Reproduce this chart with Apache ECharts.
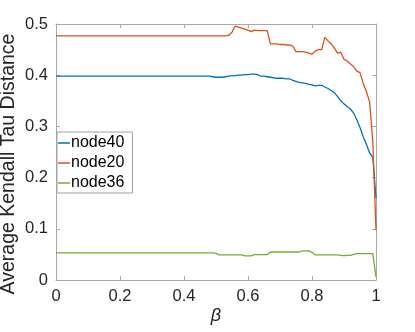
<!DOCTYPE html>
<html>
<head>
<meta charset="utf-8">
<script src="https://cdn.jsdelivr.net/npm/echarts@6/dist/echarts.min.js"></script>
<style>
    html, body { margin: 0; padding: 0; background: #fff; }
    #chart { width: 415px; height: 332px; }
</style>
</head>
<body>
<div id="chart"></div>
<script>
const betaValues = [0, 0.1, 0.2, 0.3, 0.4, 0.45, 0.48,
    0.49, 0.5, 0.51, 0.52, 0.53, 0.54, 0.55, 0.56, 0.57, 0.58, 0.59,
    0.6, 0.61, 0.62, 0.63, 0.64, 0.65, 0.66, 0.67, 0.68, 0.69,
    0.7, 0.71, 0.72, 0.73, 0.74, 0.75, 0.76, 0.77, 0.78, 0.79,
    0.8, 0.81, 0.82, 0.83, 0.84, 0.85, 0.86, 0.87, 0.88, 0.89,
    0.9, 0.91, 0.92, 0.93, 0.94, 0.95, 0.96, 0.97, 0.98, 0.99, 1]

const node40 = [0.398, 0.398, 0.398, 0.398, 0.398, 0.398, 0.398,
    0.397, 0.396, 0.396, 0.396, 0.397, 0.398, 0.399, 0.399, 0.400, 0.400, 0.401,
    0.401, 0.402, 0.402, 0.401, 0.398, 0.398, 0.397, 0.396, 0.395, 0.394,
    0.394, 0.394, 0.393, 0.393, 0.390, 0.388, 0.386, 0.385, 0.384, 0.382,
    0.381, 0.379, 0.380, 0.380, 0.377, 0.374, 0.370, 0.366, 0.358, 0.350,
    0.344, 0.339, 0.334, 0.326, 0.313, 0.298, 0.280, 0.265, 0.248, 0.240, 0.160]

const node20 = [0.477, 0.477, 0.477, 0.477, 0.477, 0.477, 0.477,
    0.477, 0.477, 0.477, 0.477, 0.477, 0.478, 0.484, 0.496, 0.494, 0.492, 0.490,
    0.488, 0.485, 0.488, 0.487, 0.487, 0.487, 0.487, 0.461, 0.461, 0.461,
    0.460, 0.460, 0.459, 0.459, 0.457, 0.446, 0.446, 0.446, 0.445, 0.443,
    0.441, 0.447, 0.450, 0.450, 0.474, 0.467, 0.461, 0.453, 0.443, 0.445,
    0.431, 0.428, 0.422, 0.417, 0.408, 0.405, 0.384, 0.368, 0.348, 0.270, 0.098]

const node36 = [0.053, 0.053, 0.053, 0.053, 0.053, 0.053, 0.053,
    0.053, 0.052, 0.049, 0.049, 0.049, 0.049, 0.049, 0.049, 0.049, 0.049, 0.047,
    0.047, 0.047, 0.0495, 0.0495, 0.0495, 0.0495, 0.0495, 0.0547, 0.0547, 0.0547,
    0.0547, 0.0547, 0.0547, 0.0547, 0.0547, 0.0547, 0.0547, 0.057, 0.057, 0.057,
    0.054, 0.049, 0.049, 0.049, 0.049, 0.049, 0.049, 0.049, 0.049, 0.048,
    0.0475, 0.048, 0.048, 0.050, 0.0514, 0.0514, 0.0514, 0.0514, 0.0514, 0.0514, 0.006]

const seriesNames = ['node40', 'node20', 'node36']
const seriesColors = ['#0072BD', '#D95319', '#77AC30']

const font = 'Liberation Sans, Arial, Helvetica, sans-serif'
const axisGray = '#a8a8a8'
const textDark = '#262626'

const pairs = (ys) => betaValues.map((x, i) => [x, ys[i]])

const chart = echarts.init(document.getElementById('chart'), null, { renderer: 'canvas' })

const boxAxis = (extra) => Object.assign({
    type: 'value',
    axisLine: { show: true, onZero: false, lineStyle: { color: axisGray, width: 1 } },
    axisTick: { show: true, inside: true, length: 4, lineStyle: { color: axisGray } },
    splitLine: { show: false },
}, extra)

chart.setOption({
    animation: false,
    backgroundColor: '#fff',
    textStyle: { fontFamily: font },
    grid: { left: 56, right: 39, top: 24, bottom: 52, containLabel: false, outerBoundsMode: 'none' },
    legend: {
        data: seriesNames,
        orient: 'vertical',
        left: 57,
        top: 132,
        padding: [3, 8, 2, 1],
        itemGap: 4,
        itemWidth: 12,
        itemHeight: 1.5,
        icon: 'rect',
        backgroundColor: '#ffffff',
        borderColor: '#a0a0a0',
        borderWidth: 1,
        borderRadius: 0,
        textStyle: { fontSize: 16, color: '#000', fontFamily: font, lineHeight: 16, padding: [0, 0, 0, -4] },
    },
    xAxis: [
        boxAxis({
            min: 0, max: 1, interval: 0.2,
            name: 'β',
            nameLocation: 'middle',
            nameGap: 27,
            nameMoveOverlap: false,
            nameTextStyle: { fontSize: 18, fontStyle: 'italic', color: textDark, fontFamily: font },
            axisLabel: { show: true, fontSize: 16.5, color: textDark, margin: 8, fontFamily: font },
        }),
        boxAxis({ position: 'top', min: 0, max: 1, interval: 0.2, axisLabel: { show: false } }),
    ],
    yAxis: [
        boxAxis({
            min: 0, max: 0.5, interval: 0.1,
            name: 'Average Kendall Tau Distance',
            nameLocation: 'middle',
            nameGap: 37,
            nameMoveOverlap: false,
            nameTextStyle: { fontSize: 19.5, color: textDark, fontFamily: font, padding: [0, 24, 0, 0] },
            axisLabel: { show: true, fontSize: 16.5, color: textDark, margin: 8, fontFamily: font },
        }),
        boxAxis({ position: 'right', min: 0, max: 0.5, interval: 0.1, axisLabel: { show: false } }),
    ],
    series: [node40, node20, node36].map((ys, i) => ({
        name: seriesNames[i],
        type: 'line',
        data: pairs(ys),
        symbol: 'none',
        color: seriesColors[i],
        lineStyle: { width: 1.3, color: seriesColors[i] },
        z: 3 + i,
    })),
})
</script>
</body>
</html>
